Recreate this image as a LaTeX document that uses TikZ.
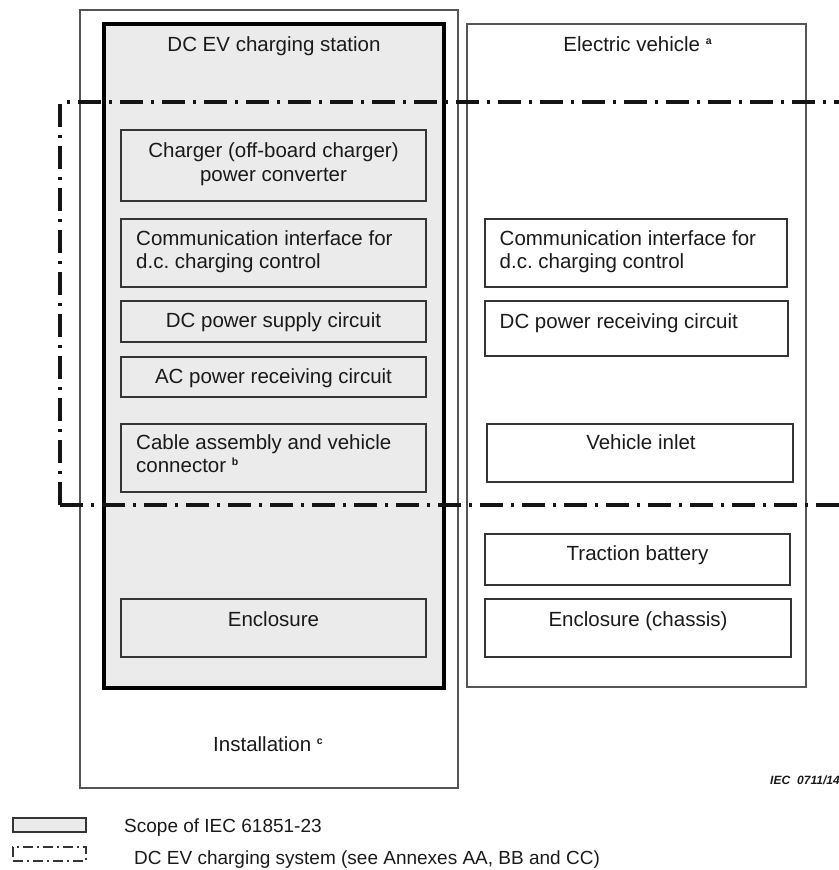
\documentclass[tikz,border=0pt]{standalone}
\usepackage{fontspec}
\setmainfont{Liberation Sans}
\usetikzlibrary{fit}
\frenchspacing

\definecolor{scopefill}{HTML}{EBEBEB}
\definecolor{boxline}{HTML}{353535}
\definecolor{outerline}{HTML}{555555}
\definecolor{textcol}{HTML}{1A1A1A}

% footnote reference letters (a, b, c)
\newcommand\fnmark[1]{\raisebox{7pt}{\fontsize{10.5}{10.5}\selectfont\bfseries #1}}
\newcommand\bodyfont{\fontsize{20.5}{23.5}\selectfont}
\newcommand\legendfont{\fontsize{19}{22}\selectfont}

\begin{document}
\begin{tikzpicture}[x=1pt,y=-1pt,
  frame/.style={fit={#1}, inner sep=0pt, outer sep=0pt, rectangle},
  installbox/.style={draw=outerline, line width=1.2pt},
  stationbox/.style={draw=black, line width=3.5pt, fill=scopefill},
  evbox/.style={draw=outerline, line width=1.2pt},
  unit/.style={draw=boxline, line width=1.3pt},
  txt/.style={inner sep=0pt, font=\bodyfont, text=textcol, anchor=base, align=center},
  txtl/.style={txt, anchor=base west, align=left},
  legtxt/.style={txtl, font=\legendfont},
  sysline/.style={draw=black!92, line width=4pt, dash pattern=on 23pt off 8pt on 3pt off 8pt},
  legsys/.style={draw=boxline, line width=1.1pt, dash pattern=on 10pt off 4pt on 2pt off 4pt},
  ieclbl/.style={inner sep=0pt, anchor=base west, text=textcol,
    font=\fontsize{12}{12}\selectfont\bfseries\itshape}]

\useasboundingbox (0,0) rectangle (838,870);

% outer frames
\node[frame={(80,10) (458,788)}, installbox] (inst) {};
\node[frame={(104,24) (444,688)}, stationbox] (station) {};
\node[frame={(467,24) (806,687)}, evbox] (ev) {};

% charging station units
\node[frame={(121,130) (426,201)}, unit] (charger) {};
\node[frame={(121,219) (426,287)}, unit] (commL) {};
\node[frame={(121,301) (426,342)}, unit] (dcsup) {};
\node[frame={(121,357) (426,397)}, unit] (acrecv) {};
\node[frame={(121,424) (426,492)}, unit] (cable) {};
\node[frame={(121,599) (426,657)}, unit] (enclL) {};

% vehicle units
\node[frame={(485,219) (787,287)}, unit] (commR) {};
\node[frame={(485,301) (788,356)}, unit] (dcrecv) {};
\node[frame={(487,424) (793,482)}, unit] (inlet) {};
\node[frame={(485,534) (790,585)}, unit] (battery) {};
\node[frame={(485,599) (791,657)}, unit] (chassis) {};

% texts (two-line texts are anchored on the baseline of their last line)
\node[txt] (stationlbl) at (274,51) {DC EV charging station};
\node[txt] (evlbl) at (637.5,51) {Electric vehicle \fnmark{a}};
\node[txt] (chargerlbl) at (273.5,181.2) {Charger (off-board charger)\\power converter};
\node[txtl] (commLlbl) at (136,268.5) {Communication interface for\\d.c. charging control};
\node[txt] (dcsuplbl) at (273.5,327.7) {DC power supply circuit};
\node[txt] (acrecvlbl) at (273.5,383) {AC power receiving circuit};
\node[txtl] (cablelbl) at (136,472.8) {Cable assembly and vehicle\\connector \fnmark{b}};
\node[txt] (enclLlbl) at (273.5,626) {Enclosure};
\node[txtl] (commRlbl) at (499.5,268.5) {Communication interface for\\d.c. charging control};
\node[txtl] (dcrecvlbl) at (499.5,328.3) {DC power receiving circuit};
\node[txt] (inletlbl) at (641,449) {Vehicle inlet};
\node[txt] (batterylbl) at (637.5,560) {Traction battery};
\node[txt] (chassislbl) at (638,626) {Enclosure (chassis)};
\node[txt] (instlbl) at (268,751) {Installation \fnmark{c}};
\node[ieclbl] (iec) at (770,784) {IEC\hspace{7pt}0711/14};

% DC EV charging system boundary (open towards the right)
\coordinate (sysTL) at (60,102);
\coordinate (sysBL) at (60,505);
\coordinate (sysTR) at (842,102);
\coordinate (sysBR) at (842,505);
\draw[sysline, dash phase=24pt] (sysTL) -- (sysTR);
\draw[sysline] (sysBL) -- (sysTL);
\draw[sysline] (sysBL) -- (sysBR);

% legend
\node[frame={(13,818) (86,832)}, unit, fill=scopefill] (legscope) {};
\node[frame={(13,847) (86,861)}, legsys] (legsys) {};
\node[legtxt] (legscopelbl) at (124,832.5) {Scope of IEC 61851-23};
\node[legtxt] (legsyslbl) at (134,864.5) {DC EV charging system (see Annexes AA, BB and CC)};

\end{tikzpicture}
\end{document}
